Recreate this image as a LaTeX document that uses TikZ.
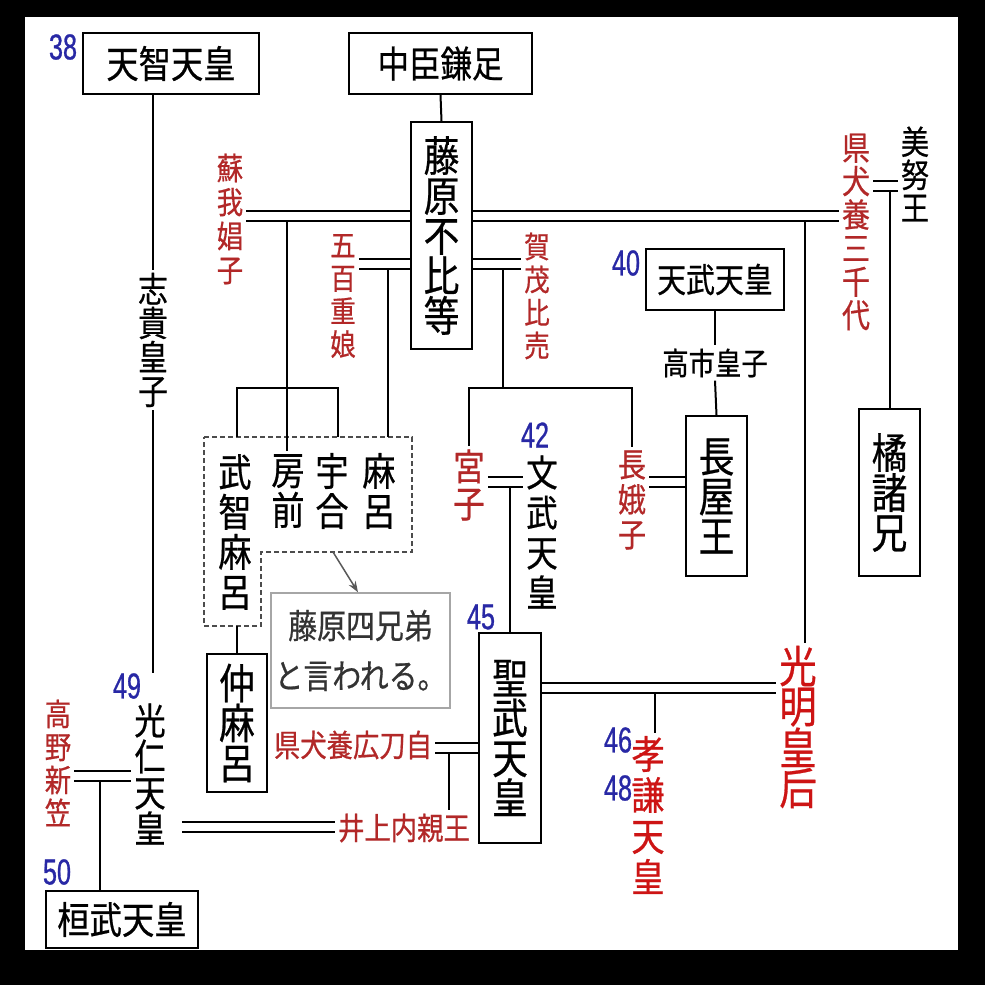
\documentclass[tikz,border=0pt]{standalone}
\usepackage{fontspec}
\setmainfont{Noto Sans CJK JP}[FakeStretch=0.85,FakeBold=0.6]
\newfontfamily\numfont{Liberation Sans}[FakeStretch=0.7,FakeBold=0.8]
\usetikzlibrary{arrows.meta}
\definecolor{wifered}{RGB}{178,40,40}
\definecolor{empred}{RGB}{205,20,20}
\definecolor{numblue}{RGB}{40,40,165}
\newcommand\jsize[2]{\fontsize{#1}{#2}\selectfont}

\begin{document}
\begin{tikzpicture}[x=1pt,y=-1pt,
  box/.style={draw,line width=2pt,inner sep=0pt,align=center},
  kin/.style={inner sep=3pt,align=center},
  wife/.style={kin,text=wifered},
  num/.style={inner sep=0pt,text=numblue,font=\numfont\jsize{36}{36}},
  tie/.style={line width=2pt},
  marry/.style={double,double distance=8pt,line width=2pt}]
% Frame
\fill[black] (0,0) rectangle (985,985);
\fill[white] (25,17) rectangle (958,950);

% Boxed persons
\node[box,minimum width=176pt,minimum height=61pt,font=\jsize{38}{40}] (tenji) at (171,63.5) {天智天皇};
\node[box,minimum width=183pt,minimum height=61pt,font=\jsize{37}{40}] (kamatari) at (440.5,63.5) {中臣鎌足};
\node[box,minimum width=61pt,minimum height=227pt,font=\jsize{42}{40}] (fuhito) at (441.5,235.5) {藤\\原\\不\\比\\等};
\node[box,minimum width=138pt,minimum height=61pt,font=\jsize{34}{40}] (tenmu) at (715,279.5) {天武天皇};
\node[box,minimum width=61pt,minimum height=160pt,font=\jsize{42}{40}] (nagaya) at (716.5,496) {長\\屋\\王};
\node[box,minimum width=61pt,minimum height=167pt,font=\jsize{42}{40}] (moroe) at (889.5,492.5) {橘\\諸\\兄};
\node[box,minimum width=62pt,minimum height=210pt,font=\jsize{42}{40}] (shomu) at (510,738) {聖\\武\\天\\皇};
\node[box,minimum width=60pt,minimum height=138pt,font=\jsize{42}{40}] (nakamaro) at (237,723) {仲\\麻\\呂};
\node[box,minimum width=152pt,minimum height=57pt,font=\jsize{38}{40}] (kanmu) at (122,919.5) {桓武天皇};

% Other persons
\node[kin,font=\jsize{35}{34}] (shiki) at (153,340) {志\\貴\\皇\\子};
\node[wife,font=\jsize{31}{34}] (soga) at (230,219) {蘇\\我\\娼\\子};
\node[wife,font=\jsize{30}{33}] (iohe) at (343,296) {五\\百\\重\\娘};
\node[wife,font=\jsize{30}{33}] (kamo) at (537,296) {賀\\茂\\比\\売};
\node[wife,font=\jsize{33}{33.5}] (michiyo) at (856,232) {県\\犬\\養\\三\\千\\代};
\node[kin,font=\jsize{33}{33}] (minu) at (915,174) {美\\努\\王};
\node[kin,font=\jsize{31}{31}] (takechi) at (715,363) {高市皇子};
\node[wife,font=\jsize{33}{35}] (nagako) at (632,500) {長\\娥\\子};
\node[wife,font=\jsize{37}{37}] (miyako) at (469,485) {宮\\子};
\node[kin,font=\jsize{37}{40}] (monmu) at (542,532) {文\\武\\天\\皇};
\node[kin,text=empred,font=\jsize{44}{40}] (komyo) at (798,727) {光\\明\\皇\\后};
\node[kin,text=empred,font=\jsize{39}{41}] (koken) at (648,815) {孝\\謙\\天\\皇};
\node[wife,font=\jsize{31}{31}] (hirotoji) at (353,745) {県犬養広刀自};
\node[wife,font=\jsize{31}{31}] (inoue) at (404,828) {井上内親王};
\node[kin,font=\jsize{37}{36}] (konin) at (150,774) {光\\仁\\天\\皇};
\node[wife,font=\jsize{31}{33}] (takano) at (58,763) {高\\野\\新\\笠};

% The four brothers
\node[kin,font=\jsize{39}{40}] (muchimaro) at (235,532) {武\\智\\麻\\呂};
\node[kin,font=\jsize{39}{40}] (fusasaki) at (288,491) {房\\前};
\node[kin,font=\jsize{39}{40}] (umakai) at (332,491) {宇\\合};
\node[kin,font=\jsize{39}{40}] (maro) at (379,491) {麻\\呂};
\draw[dashed,dash pattern=on 5pt off 3pt,line width=1.5pt,black!70] (204,437) -- (412,437) -- (412,552) -- (261,552) -- (261,626) -- (204,626) -- cycle;
\node[draw=black!35,line width=1.5pt,minimum width=167pt,minimum height=115pt,align=center,text=black!80,font=\jsize{34}{50}] (brothers) at (360.5,650.5) {藤原四兄弟\\と言われる。};
\coordinate (dashBottom) at (333,552);
\draw[-{Stealth[length=11pt,width=8pt]},line width=1.5pt,black!65] (dashBottom) -- (brothers.north -| 358,0);

% Reign numbers
\node[num] (n38) at (63,47) {38};
\node[num] (n40) at (626,263) {40};
\node[num] (n42) at (535,435) {42};
\node[num] (n45) at (481,617) {45};
\node[num] (n46) at (618,740) {46};
\node[num] (n48) at (618,788) {48};
\node[num] (n49) at (127,686) {49};
\node[num] (n50) at (57,872) {50};

% Marriage levels
\coordinate (m0) at (0,185.5);
\coordinate (m1) at (0,216);
\coordinate (m2) at (0,263.5);
\coordinate (m3) at (0,482);
\coordinate (m4) at (0,687.5);
\coordinate (m5) at (0,748);
\coordinate (m6) at (0,827);
\coordinate (m7) at (0,776);
\coordinate (bar1) at (0,388);

% Marriages
\draw[marry] (soga.east |- m1) -- (fuhito.west |- m1);
\draw[marry] (fuhito.east |- m1) -- (michiyo.west |- m1);
\draw[marry] (iohe.east |- m2) -- (fuhito.west |- m2);
\draw[marry] (fuhito.east |- m2) -- (kamo.west |- m2);
\draw[marry] (michiyo.east |- m0) -- (minu.west |- m0);
\draw[marry] (miyako.east |- m3) -- (monmu.west |- m3);
\draw[marry] (nagako.east |- m3) -- (nagaya.west |- m3);
\draw[marry] (shomu.east |- m4) -- (komyo.west |- m4);
\draw[marry] (hirotoji.east |- m5) -- (shomu.west |- m5);
\draw[marry] ([xshift=13pt]konin.east |- m6) -- (inoue.west |- m6);
\draw[marry] (takano.east |- m7) -- (konin.west |- m7);

% Descent
\draw[tie] (tenji.south -| shiki.north) -- (shiki.north);
\draw[tie] (shiki.south) -- (shiki.south |- n49.north east);
\draw[tie] (kamatari.south) -- (fuhito.north);
\coordinate (sogaKids) at (287,221);
\draw[tie] (sogaKids) -- (sogaKids |- fusasaki.north);
\draw[tie] (237,437) -- (237,388) -- (338,388) -- (338,437);
\coordinate (iohaKid) at (388,268.5);
\draw[tie] (iohaKid) -- (388,437);
\coordinate (kamoKids) at (503,268.5);
\draw[tie] (kamoKids) -- (kamoKids |- bar1);
\draw[tie] (miyako.north) |- (nagako.north |- bar1) -- (nagako.north);
\draw[tie] (shomu.north |- 0,487) -- (shomu.north);
\draw[tie] (tenmu.south) -- (takechi.north);
\draw[tie] (takechi.south) -- (nagaya.north);
\draw[tie] (moroe.north |- 0,190.5) -- (moroe.north);
\coordinate (komyoLine) at (805,221);
\draw[tie] (komyoLine) -- (komyoLine |- komyo.north);
\coordinate (kokenLine) at (655,692.5);
\draw[tie] (kokenLine) -- (kokenLine |- koken.north);
\coordinate (inoueLine) at (449,753);
\draw[tie] (inoueLine) -- (inoueLine |- inoue.north);
\coordinate (kanmuLine) at (100,781);
\draw[tie] (kanmuLine) -- (kanmuLine |- kanmu.north);
\draw[tie] (nakamaro.north) -- (nakamaro.north |- 0,626);
\end{tikzpicture}
\end{document}
